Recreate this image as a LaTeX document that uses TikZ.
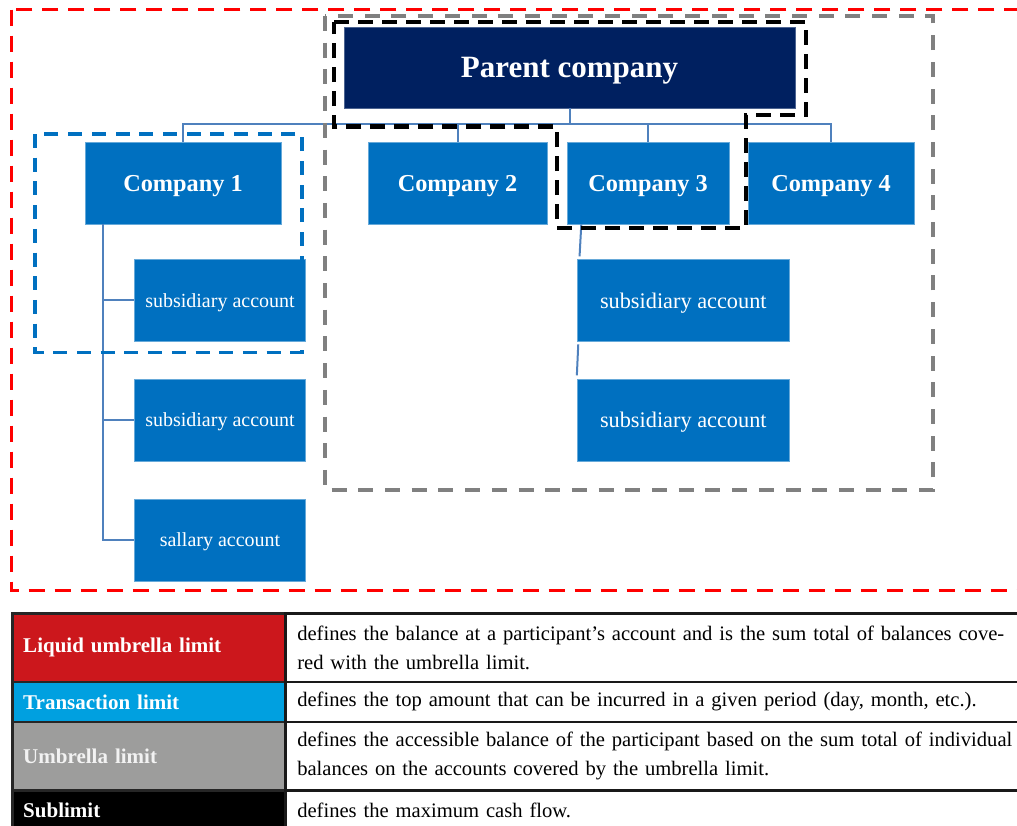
\documentclass[tikz,border=0pt]{standalone}
\usepackage{fontspec}
\setmainfont{Liberation Serif}
\usetikzlibrary{calc}
\definecolor{navy}{RGB}{0,32,96}
\definecolor{cblue}{RGB}{0,112,192}
\definecolor{connc}{RGB}{79,129,189}
\definecolor{lred}{RGB}{204,23,28}
\definecolor{lcyan}{RGB}{0,160,224}
\definecolor{lgray}{RGB}{157,157,156}
\definecolor{dgray}{RGB}{128,128,128}
\definecolor{dred}{RGB}{255,0,0}
\begin{document}
\begin{tikzpicture}[x=1pt,y=-1pt,
  parentbox/.style={fill=navy, draw=navy!70!white, line width=0.8pt, text=white, inner sep=0pt,
    minimum width=451pt, minimum height=81pt, text depth=0pt, font=\bfseries\fontsize{31}{36}\selectfont},
  compbox/.style={fill=cblue, draw=cblue!60!white, line width=0.8pt, text=white, inner sep=0pt,
    minimum height=81.3pt, text depth=0pt, font=\bfseries\fontsize{24.3}{28}\selectfont},
  lsub/.style={fill=cblue, draw=cblue!60!white, line width=0.8pt, text=white, inner sep=0pt,
    minimum width=170.6pt, minimum height=82pt, text depth=0pt, font=\fontsize{20}{24}\selectfont},
  rsub/.style={fill=cblue, draw=cblue!60!white, line width=0.8pt, text=white, inner sep=0pt,
    minimum width=212.7pt, minimum height=82pt, text depth=0pt, font=\fontsize{22.3}{26}\selectfont},
  conn/.style={draw=connc, line width=2pt},
  lcell/.style={draw=black!85, line width=2.5pt, text=white, anchor=north west, inner ysep=0pt,
    inner xsep=11pt, minimum width=273.3pt, text width=251.3pt, align=left,
    font=\bfseries\fontsize{21}{26}\selectfont},
  rcell/.style={draw=black!90, line width=2.5pt, fill=white, text=black, anchor=north west, inner ysep=0pt,
    inner xsep=11.7pt, minimum width=760pt, text width=736.6pt, align=left,
    font=\fontsize{20.6}{28.5}\selectfont},
  reddash/.style={draw=dred, line width=3.3pt, dash pattern=on 16pt off 10pt},
  graydash/.style={draw=dgray, line width=3.5pt, dash pattern=on 15pt off 11.7pt},
  blackdash/.style={draw=black, line width=4.5pt, dash pattern=on 15pt off 9pt},
  bluedash/.style={draw=cblue, line width=3.3pt, dash pattern=on 14pt off 9.7pt}
]
\useasboundingbox (0,0) rectangle (1017,825);
\clip (0,0) rectangle (1017,825);

% nodes
\node[parentbox] (parent) at (569.5,67.5) {Parent company};
\node[compbox, minimum width=196pt] (c1) at (183,183.3) {Company 1};
\node[compbox, minimum width=179pt] (c2) at (457.5,183.3) {Company 2};
\node[compbox, minimum width=162pt] (c3) at (648,183.3) {Company 3};
\node[compbox, minimum width=166pt] (c4) at (831,183.3) {Company 4};
\node[lsub] (s1) at (220,300.3) {subsidiary account};
\node[lsub] (s2) at (220,420) {subsidiary account};
\node[lsub] (s3) at (220,540) {sallary account};
\node[rsub] (r1) at (683.3,300.3) {subsidiary account};
\node[rsub] (r2) at (683.3,420) {subsidiary account};

% connectors
\coordinate (bus) at ($(parent.south)+(0,15.3)$);
\draw[conn] (parent.south) -- (bus);
\foreach \c in {c1,c2,c3,c4} \draw[conn] (bus) -| (\c.north);
\coordinate (c1t) at ($(c1.south west)+(18.7,0)$);
\foreach \s in {s1,s2,s3} \draw[conn] (c1t) |- (\s.west);
\draw[conn] ($(c3.south west)+(14.7,0)$) -- ($(r1.north west)+(3,-2.5)$);
\draw[conn] ($(r1.south west)+(1.7,2.7)$) -- ($(r2.north west)+(0.3,-3.3)$);

% limit frames
\draw[reddash] (11.7,9.7) rectangle (1040,590.7);
\draw[graydash] (325,16) rectangle (933,490);
\draw[bluedash] (35,134) rectangle (302,352.7);
\draw[blackdash] (334,22) -- (806,22) -- (806,115) -- (746,115) -- (746,228)
  -- (557,228) -- (557,126.7) -- (334,126.7) -- cycle;

% legend table
\node[lcell, fill=lred, minimum height=68.4pt] (l1) at (11,612.3) {Liquid umbrella limit};
\node[lcell, fill=lcyan, minimum height=40pt] (l2) at (11,680.7) {Transaction limit};
\node[lcell, fill=lgray, minimum height=68.3pt, text=white!95!black] (l3) at (11,720.7) {Umbrella limit};
\node[lcell, fill=black, minimum height=41pt] (l4) at (11,789) {Sublimit};
\node[rcell, minimum height=68.4pt] (d1) at (284.3,612.3) {defines the balance at a participant’s account and is the sum total of balances cove-\\red with the umbrella limit.};
\node[rcell, minimum height=40pt] (d2) at (284.3,680.7) {defines the top amount that can be incurred in a given period (day, month, etc.).};
\node[rcell, minimum height=68.3pt] (d3) at (284.3,720.7) {defines the accessible balance of the participant based on the sum total of individual\\balances on the accounts covered by the umbrella limit.};
\node[rcell, minimum height=41pt] (d4) at (284.3,789) {defines the maximum cash flow.};
\end{tikzpicture}
\end{document}
